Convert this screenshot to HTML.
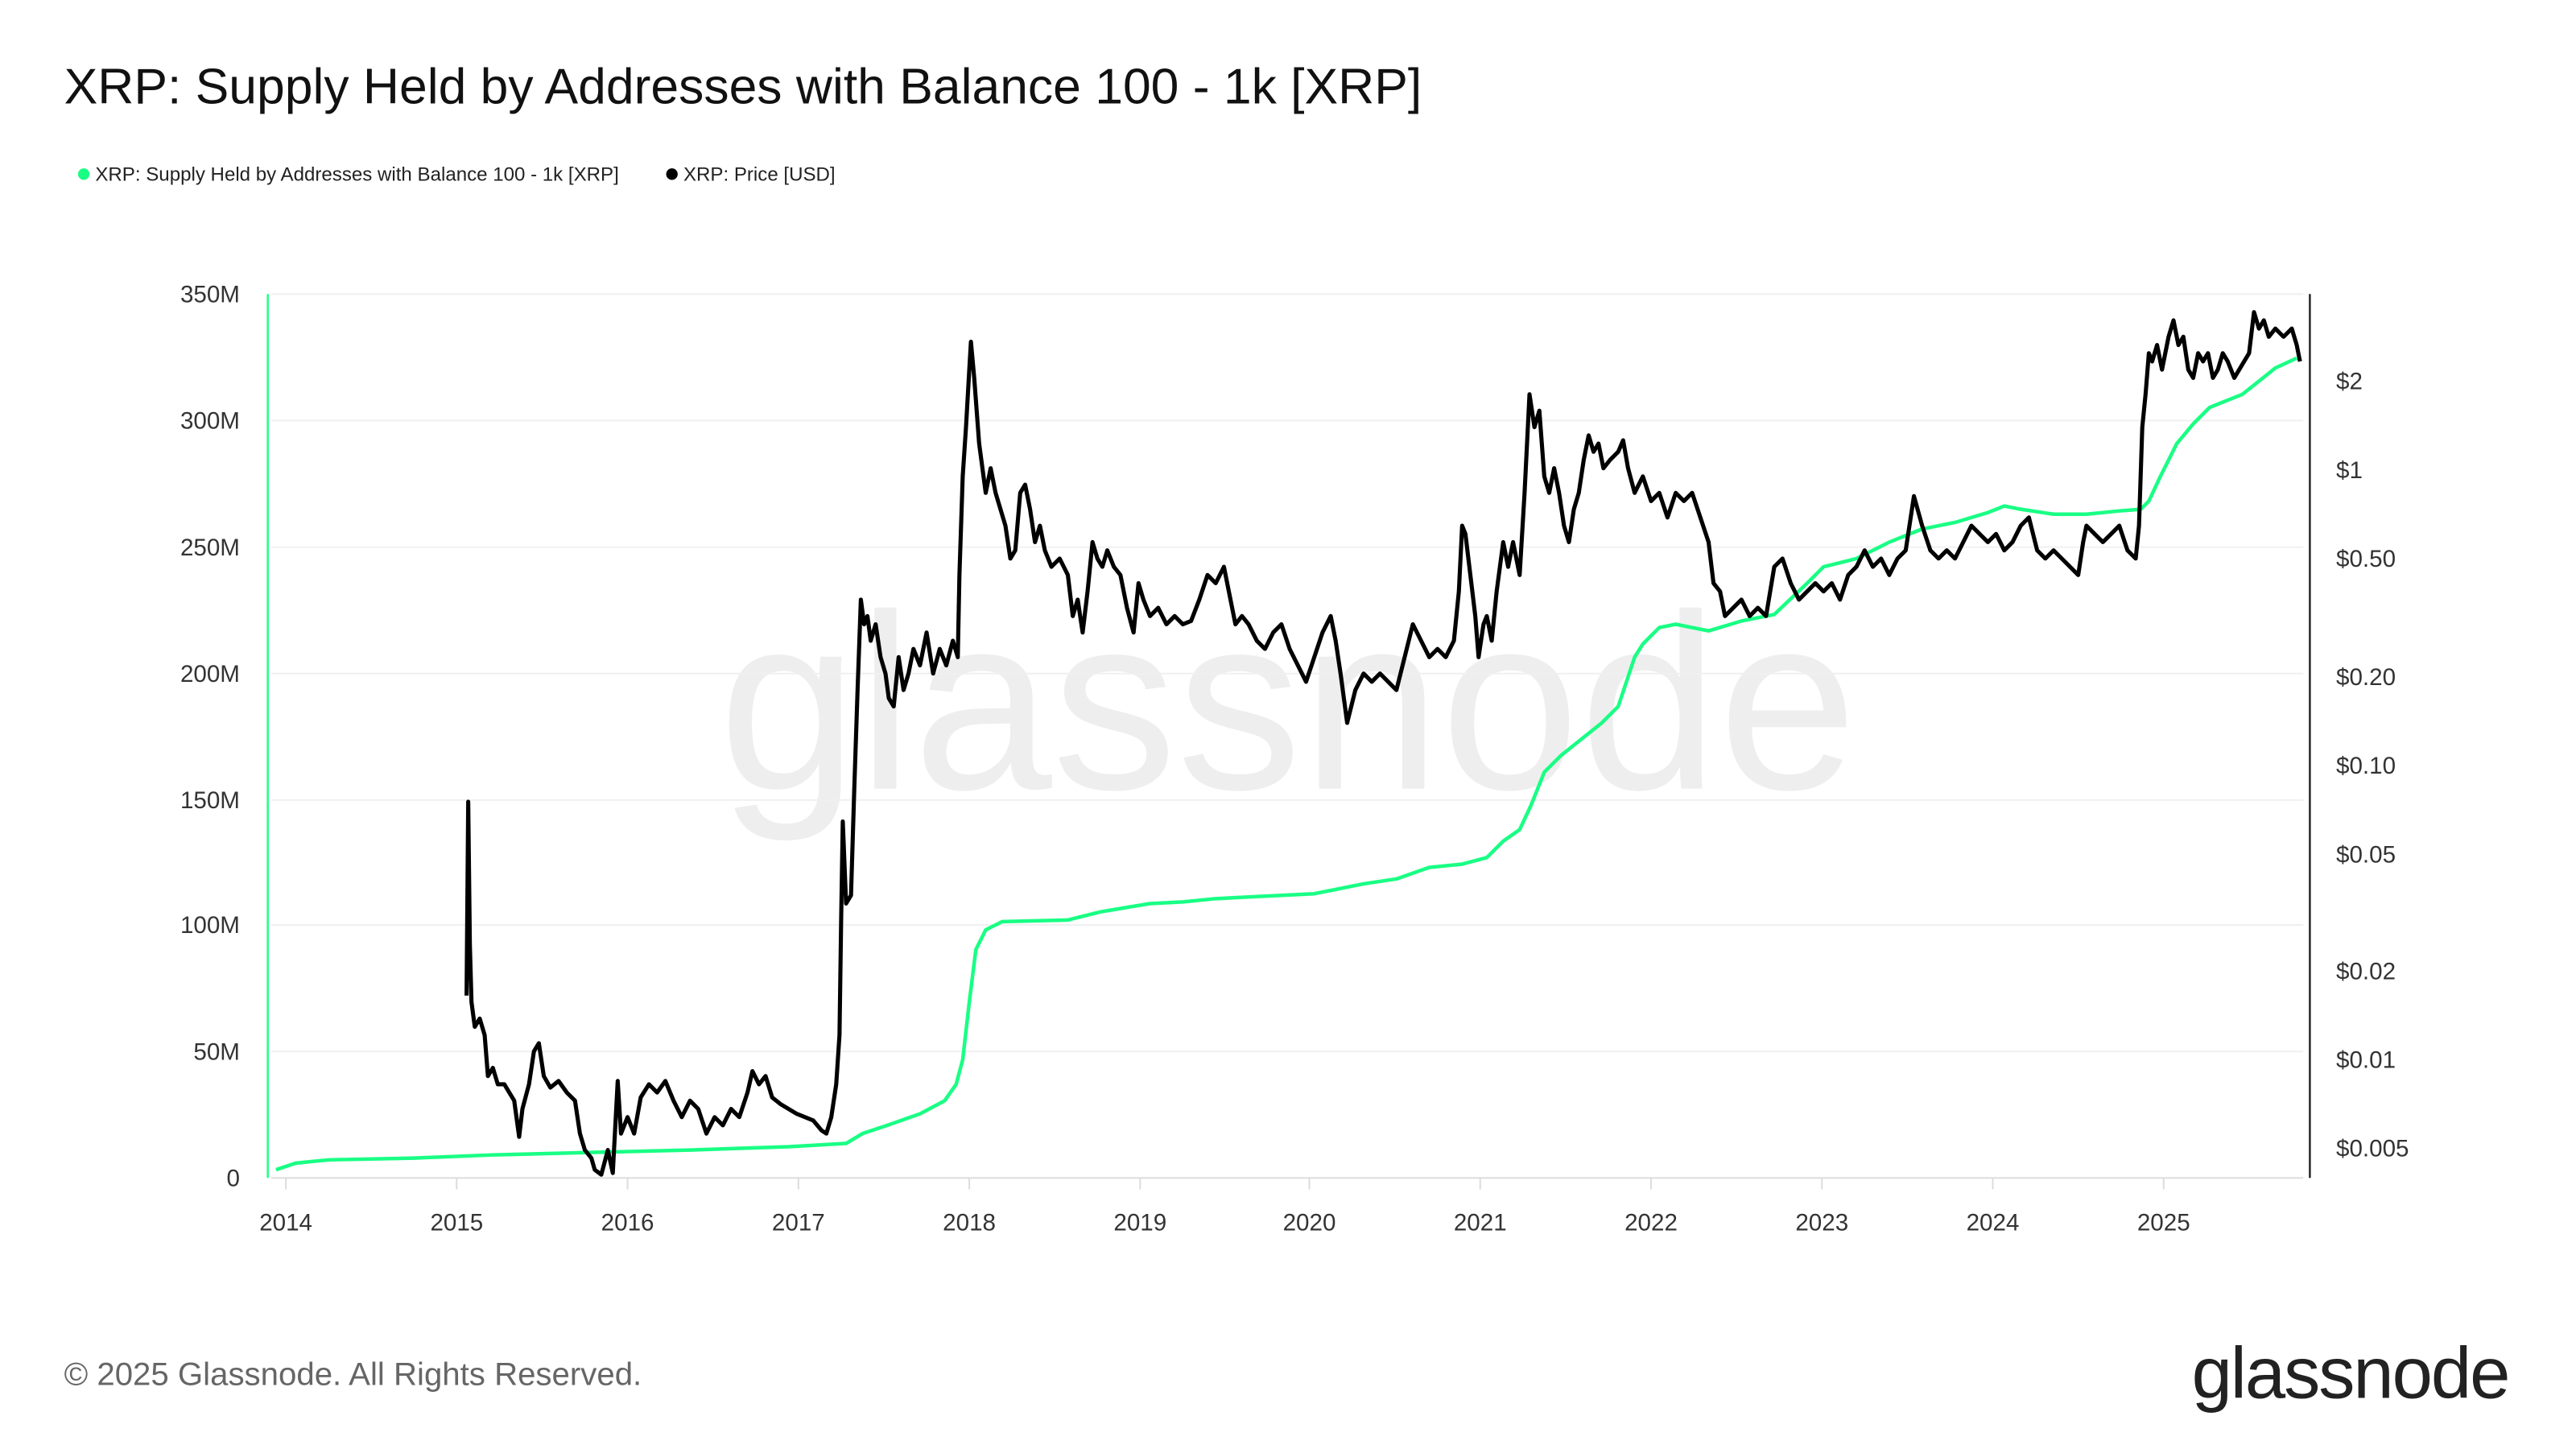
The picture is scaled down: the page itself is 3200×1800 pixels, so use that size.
<!DOCTYPE html>
<html><head><meta charset="utf-8"><style>
html,body{margin:0;padding:0;background:#fff;}
svg{display:block;font-family:"Liberation Sans",sans-serif;}
</style></head><body>
<svg width="3200" height="1800" viewBox="0 0 1568 882" xmlns="http://www.w3.org/2000/svg">
<rect width="1568" height="882" fill="#fff"/>
<text x="39" y="63" font-size="30.6" fill="#111">XRP: Supply Held by Addresses with Balance 100 - 1k [XRP]</text>
<circle cx="51" cy="106" r="3.5" fill="#19ff84"/>
<text x="58" y="110" font-size="11.8" fill="#222">XRP: Supply Held by Addresses with Balance 100 - 1k [XRP]</text>
<circle cx="409" cy="106" r="3.5" fill="#000"/>
<text x="416" y="110" font-size="11.8" fill="#222">XRP: Price [USD]</text>
<text x="784" y="480" font-size="152" fill="#eeeeee" text-anchor="middle">glassnode</text>
<g stroke="#f0f0f0" stroke-width="1">
<line x1="165" x2="1402" y1="179" y2="179"/><line x1="165" x2="1402" y1="256" y2="256"/>
<line x1="165" x2="1402" y1="333" y2="333"/><line x1="165" x2="1402" y1="410" y2="410"/>
<line x1="165" x2="1402" y1="487" y2="487"/><line x1="165" x2="1402" y1="563" y2="563"/>
<line x1="165" x2="1402" y1="640" y2="640"/>
</g>
<line x1="165" x2="1402" y1="717" y2="717" stroke="#ddd"/>
<g stroke="#ddd"><line x1="174" x2="174" y1="717" y2="724"/><line x1="278" x2="278" y1="717" y2="724"/><line x1="382" x2="382" y1="717" y2="724"/><line x1="486" x2="486" y1="717" y2="724"/><line x1="590" x2="590" y1="717" y2="724"/><line x1="694" x2="694" y1="717" y2="724"/><line x1="797" x2="797" y1="717" y2="724"/><line x1="901" x2="901" y1="717" y2="724"/><line x1="1005" x2="1005" y1="717" y2="724"/><line x1="1109" x2="1109" y1="717" y2="724"/><line x1="1213" x2="1213" y1="717" y2="724"/><line x1="1317" x2="1317" y1="717" y2="724"/></g>
<g font-size="14.5" fill="#333" text-anchor="middle">
<text x="174" y="749">2014</text><text x="278" y="749">2015</text><text x="382" y="749">2016</text><text x="486" y="749">2017</text><text x="590" y="749">2018</text><text x="694" y="749">2019</text><text x="797" y="749">2020</text><text x="901" y="749">2021</text><text x="1005" y="749">2022</text><text x="1109" y="749">2023</text><text x="1213" y="749">2024</text><text x="1317" y="749">2025</text>
</g>
<g font-size="14.5" fill="#333" text-anchor="end">
<text x="146" y="184">350M</text><text x="146" y="261">300M</text><text x="146" y="338">250M</text><text x="146" y="415">200M</text><text x="146" y="492">150M</text><text x="146" y="568">100M</text><text x="146" y="645">50M</text><text x="146" y="722">0</text>
</g>
<g font-size="14.5" fill="#333">
<text x="1422" y="237">$2</text><text x="1422" y="291">$1</text><text x="1422" y="345">$0.50</text><text x="1422" y="417">$0.20</text><text x="1422" y="471">$0.10</text><text x="1422" y="525">$0.05</text><text x="1422" y="596">$0.02</text><text x="1422" y="650">$0.01</text><text x="1422" y="704">$0.005</text>
</g>
<line x1="163" x2="163" y1="179" y2="717" stroke="#19ff84" stroke-width="1.2"/>
<line x1="1406" x2="1406" y1="179" y2="717" stroke="#222" stroke-width="1.2"/>
<polyline fill="none" stroke="#19ff84" stroke-width="2.2" stroke-linejoin="round" points="168,712 180,708 200,706 250,705 300,703 340,702 380,701 420,700 480,698 515,696 525,690 540,685 560,678 575,670 582,660 586,645 590,610 594,578 600,566 610,561 650,560 670,555 700,550 720,549 740,547 760,546 800,544 830,538 850,535 870,528 890,526 905,522 915,512 925,505 932,490 940,470 950,460 965,448 975,440 985,430 990,415 995,400 1000,392 1010,382 1020,380 1040,384 1060,378 1080,374 1100,355 1110,345 1130,340 1150,330 1170,322 1190,318 1210,312 1220,308 1230,310 1250,313 1270,313 1290,311 1303,310 1308,305 1315,290 1325,270 1335,258 1345,248 1355,244 1365,240 1375,232 1385,224 1398,218"/>
<polyline fill="none" stroke="#000" stroke-width="2.5" stroke-linejoin="round" points="284,606 285,488 286,575 287,610 289,625 292,620 295,630 297,655 300,650 303,660 307,660 310,665 313,670 316,692 318,675 322,660 325,640 328,635 331,655 335,662 340,658 345,665 350,670 353,690 356,700 360,705 362,712 366,715 370,700 373,714 376,658 378,690 382,680 386,690 390,668 395,660 400,665 405,658 410,670 415,680 420,670 425,675 430,690 435,680 440,685 445,675 450,680 455,665 458,652 462,660 466,655 470,668 475,672 480,675 485,678 490,680 495,682 500,688 503,690 506,680 509,660 511,630 512,560 513,500 515,550 518,545 520,480 522,420 524,365 526,380 528,375 530,390 533,380 536,400 539,410 541,425 544,430 547,400 550,420 553,410 556,395 560,405 564,385 568,410 572,395 576,405 580,390 583,400 584,350 586,290 588,260 590,225 591,208 593,230 596,270 600,300 603,285 606,300 609,310 612,320 615,340 618,335 621,300 624,295 627,310 630,330 633,320 636,335 640,345 645,340 650,350 653,375 656,365 659,385 662,360 665,330 668,340 671,345 674,335 678,345 682,350 686,370 690,385 693,355 696,365 700,375 705,370 710,380 715,375 720,380 725,378 730,365 735,350 740,355 745,345 748,360 752,380 756,375 760,380 765,390 770,395 775,385 780,380 785,395 790,405 795,415 800,400 805,385 810,375 813,390 816,410 820,440 825,420 830,410 835,415 840,410 845,415 850,420 855,400 860,380 865,390 870,400 875,395 880,400 885,390 888,360 890,320 892,325 895,350 898,375 900,400 903,380 905,375 908,390 911,360 915,330 918,345 921,330 925,350 928,300 931,240 934,260 937,250 940,290 943,300 946,285 949,300 952,320 955,330 958,310 961,300 964,280 967,265 970,275 973,270 976,285 980,280 985,275 988,268 991,285 995,300 1000,290 1005,305 1010,300 1015,315 1020,300 1025,305 1030,300 1035,315 1040,330 1043,355 1047,360 1050,375 1055,370 1060,365 1065,375 1070,370 1075,375 1080,345 1085,340 1090,355 1095,365 1100,360 1105,355 1110,360 1115,355 1120,365 1125,350 1130,345 1135,335 1140,345 1145,340 1150,350 1155,340 1160,335 1165,302 1170,320 1175,335 1180,340 1185,335 1190,340 1195,330 1200,320 1205,325 1210,330 1215,325 1220,335 1225,330 1230,320 1235,315 1240,335 1245,340 1250,335 1255,340 1260,345 1265,350 1268,330 1270,320 1275,325 1280,330 1285,325 1290,320 1295,335 1300,340 1302,320 1304,260 1306,240 1308,215 1310,220 1313,210 1316,225 1320,205 1323,195 1326,210 1329,205 1332,225 1335,230 1338,215 1341,220 1344,215 1347,230 1350,225 1353,215 1356,220 1360,230 1363,225 1366,220 1369,215 1372,190 1375,200 1378,195 1381,205 1385,200 1390,205 1395,200 1398,210 1400,220"/>
<text x="39" y="843" font-size="19.7" fill="#666">© 2025 Glassnode. All Rights Reserved.</text>
<text x="1527" y="851" font-size="44.3" fill="#222" text-anchor="end" letter-spacing="-1">glassnode</text>
</svg>
</body></html>
